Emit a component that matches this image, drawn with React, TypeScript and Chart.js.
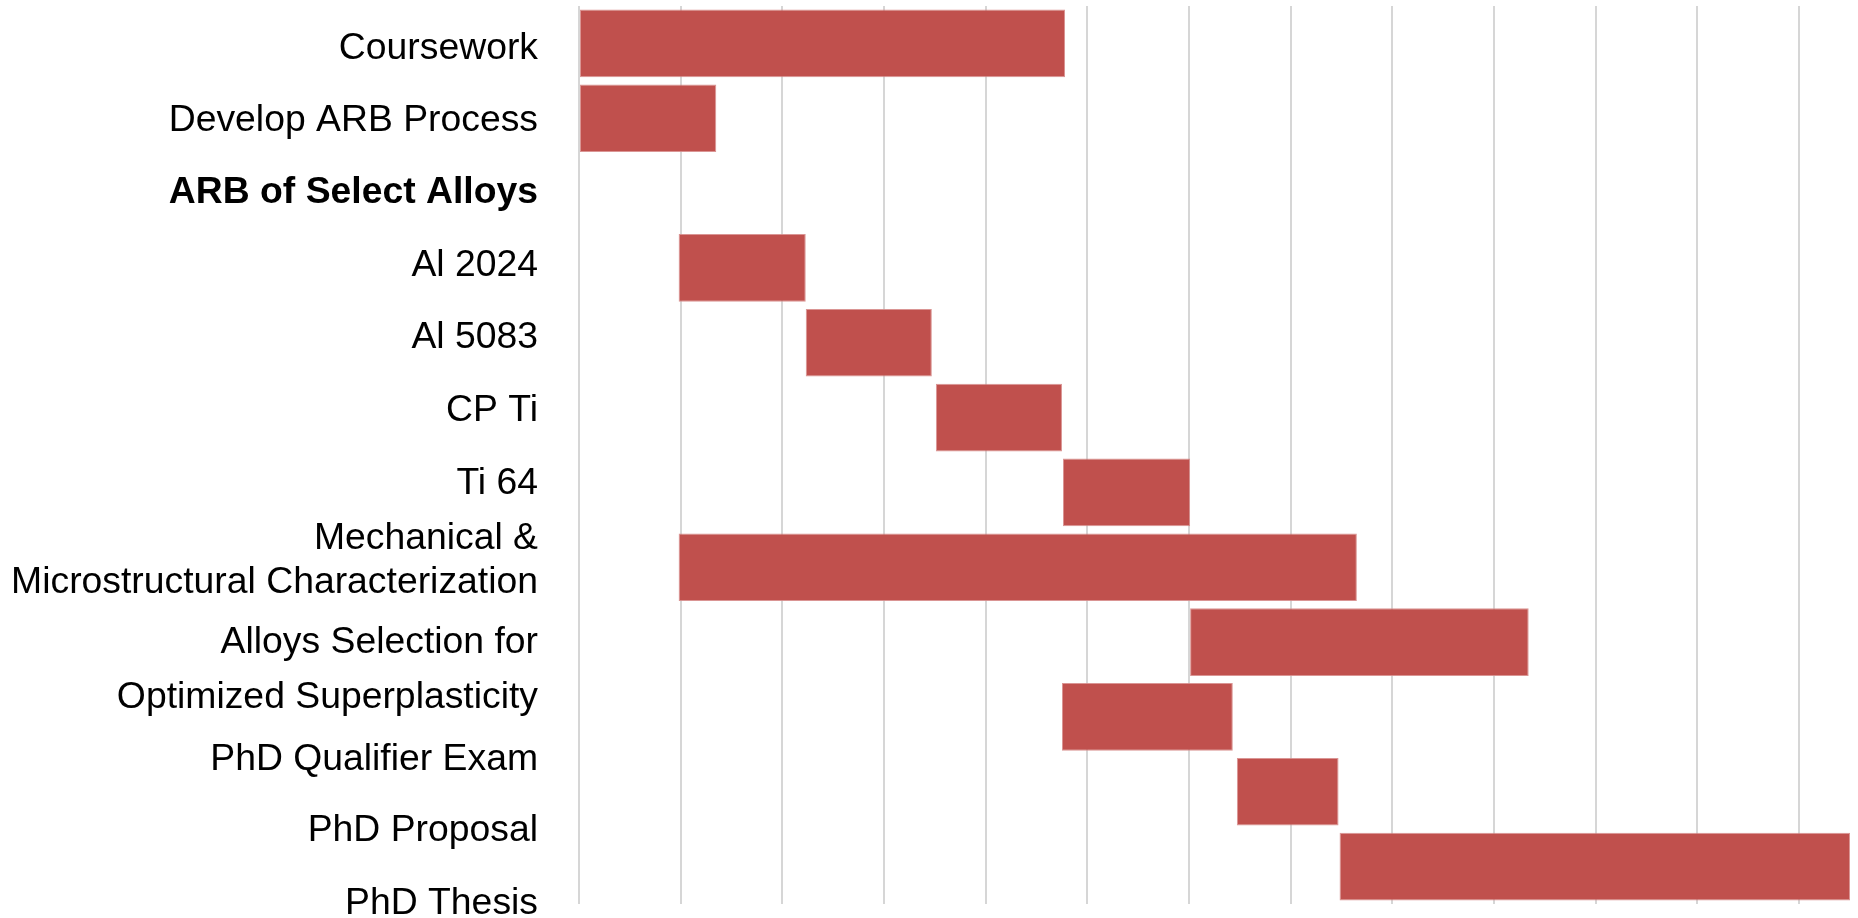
import { useEffect, useRef } from 'react';
import { Chart, registerables } from 'chart.js';

Chart.register(...registerables);

// Task names, top to bottom (arrays are wrapped onto two lines)
const tasks: (string | string[])[] = [
  'Coursework',
  'Develop ARB Process',
  'ARB of Select Alloys',
  'Al 2024',
  'Al 5083',
  'CP Ti',
  'Ti 64',
  ['Mechanical &', 'Microstructural Characterization'],
  ['Alloys Selection for', 'Optimized Superplasticity'],
  'PhD Qualifier Exam',
  'PhD Proposal',
  'PhD Thesis',
];

// Start and end of each task on the timeline (one unit per grid line)
const taskStart: (number | null)[] = [0, 0, null, 0.98, 2.23, 3.51, 4.76, 0.98, 6.01, 4.75, 6.47, 7.48];
const taskEnd: (number | null)[] = [4.78, 1.35, null, 2.23, 3.47, 4.75, 6.01, 7.65, 9.34, 6.43, 7.47, 12.5];

// Timeline extent and grid spacing
const timelineMin = 0;
const timelineMax = 12.5;
const timelineStep = 1;

// Section headings shown in bold
const headingRows = [2];

// Label layout: font size, gap to the plot, vertical nudges and line pitch
const LABEL_FONT_PX = 37.33;
const LABEL_GAP = 41;
const labelNudge = [2, -1, -3, -5, -8, -10, -12, -10, 25, 40, 36, 34];
const labelLinePitch: Record<number, number> = { 7: 44, 8: 54.5 };

const BAR_COLOR = '#C0504D';

const taskLabels = {
  id: 'taskLabels',
  afterDraw(chart: Chart) {
    const { ctx, chartArea } = chart;
    const yScale = chart.scales.y;
    ctx.save();
    ctx.fillStyle = '#000000';
    ctx.textAlign = 'right';
    ctx.textBaseline = 'alphabetic';
    tasks.forEach((label, i) => {
      const lines = Array.isArray(label) ? label : [label];
      const pitch = labelLinePitch[i] ?? 44;
      const weight = headingRows.includes(i) ? 'bold ' : '';
      ctx.font = `${weight}${LABEL_FONT_PX}px "Liberation Sans", Arial, sans-serif`;
      const center = yScale.getPixelForValue(i) + labelNudge[i];
      lines.forEach((line, j) => {
        const capCenter = center + (j - (lines.length - 1) / 2) * pitch;
        ctx.fillText(line, chartArea.left - LABEL_GAP, capCenter + LABEL_FONT_PX * 0.358);
      });
    });
    ctx.restore();
  },
};

export default function App() {
  const canvasRef = useRef<HTMLCanvasElement | null>(null);

  useEffect(() => {
    if (!canvasRef.current) return;
    const ranges = taskStart.map((s, i) =>
      s === null || taskEnd[i] === null ? null : [s, taskEnd[i] as number]
    );
    const chart = new Chart(canvasRef.current, {
      type: 'bar',
      data: {
        labels: tasks,
        datasets: [
          {
            data: ranges as any,
            backgroundColor: BAR_COLOR,
            borderColor: 'rgba(214,138,136,0.9)',
            borderWidth: 1,
            borderSkipped: false,
            barPercentage: 0.905,
            categoryPercentage: 1,
          },
        ],
      },
      options: {
        indexAxis: 'y',
        animation: false,
        responsive: true,
        maintainAspectRatio: false,
        layout: { padding: { left: 579, right: 8, top: 6, bottom: 14 } },
        plugins: {
          legend: { display: false },
          tooltip: { enabled: false },
        },
        scales: {
          x: {
            type: 'linear',
            min: timelineMin,
            max: timelineMax,
            ticks: { display: false, stepSize: timelineStep, includeBounds: false },
            grid: { color: '#d6d6d6', lineWidth: 2, drawTicks: false },
            border: { display: false },
          },
          y: {
            display: false,
          },
        },
      },
      plugins: [taskLabels],
    });
    return () => chart.destroy();
  }, []);

  return (
    <div style={{ position: 'fixed', left: 0, top: 0, width: 1858, height: 918, background: '#ffffff' }}>
      <canvas ref={canvasRef} />
    </div>
  );
}
